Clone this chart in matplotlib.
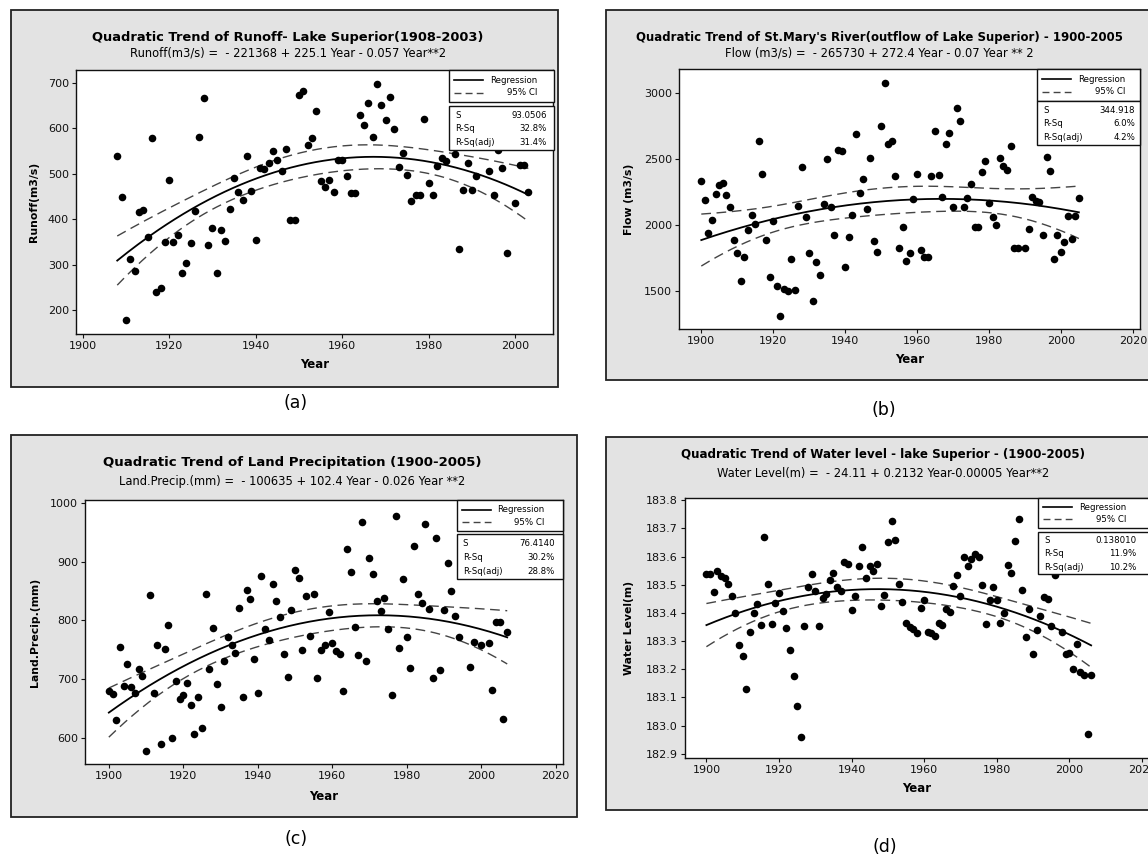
import numpy as np
import matplotlib
matplotlib.use("Agg")
import matplotlib.pyplot as plt
from matplotlib.patches import Rectangle
from matplotlib.lines import Line2D

W, H = 1148, 857

# ---- (a) runoff ----
years_a = list(range(1908, 1985)) + [1986, 1987, 1988, 1989, 1990, 1991, 1994, 1995,
                                     1996, 1997, 1998, 2000, 2001, 2002, 2003]
runoff = [538, 448, 177, 313, 286, 415, 421, 361, 579, 240, 248, 350, 487, 350, 366,
          281, 303, 347, 417, 581, 666, 342, 380, 281, 375, 352, 423, 490, 459, 443,
          538, 462, 355, 512, 510, 523, 550, 530, 505, 555, 399, 399, 672, 682, 563,
          578, 637, 484, 471, 486, 460, 531, 531, 494, 458, 458, 628, 607, 655, 581,
          698, 650, 619, 668, 598, 515, 545, 498, 440, 452, 452, 621, 479, 454, 517,
          535, 527,
          543, 334, 465, 524, 465, 495, 506, 454, 552, 512, 325, 435, 520, 518, 460]

# ---- (b) St. Mary's River flow ----
years_b = list(range(1900, 1989)) + list(range(1990, 2006))
flow = [2333, 2192, 1945, 2038, 2237, 2303, 2323, 2232, 2141, 1889, 1788, 1576, 1758,
        1965, 2076, 2010, 2639, 2386, 1889, 1611, 2030, 1543, 1311, 1515, 1505, 1742,
        1510, 2149, 2444, 2066, 1788, 1427, 1720, 1624, 2162, 2500, 2136, 1929, 2568,
        2561, 1682, 1914, 2076, 2689, 2248, 2349, 2126, 2508, 1881, 1801, 2753, 3081,
        2619, 2641, 2371, 1831, 1987, 1727, 1793, 2202, 2391, 1811, 1763, 1763, 2376,
        2712, 2381, 2217, 2616, 2697, 2136, 2886, 2790, 2136, 2207, 2313, 1985, 1985,
        2404, 2487, 2172, 2066, 2000, 2508, 2447, 2422, 2601, 1826, 1826,
        1826, 1970, 2217, 2184, 2177, 1927, 2515, 2412, 1742, 1927, 1796, 1876, 2073,
        1897, 2073, 2207]

# ---- (c) land precipitation ----
years_c = list(range(1900, 1995)) + [1997, 1998, 2000, 2002, 2003, 2004, 2005, 2006, 2007]
precip = [679, 674, 630, 754, 688, 726, 687, 677, 718, 706, 578, 843, 677, 759, 589,
          752, 793, 600, 696, 666, 672, 693, 655, 607, 669, 617, 846, 718, 788, 691,
          653, 730, 772, 759, 745, 821, 670, 852, 836, 735, 677, 876, 786, 766, 862,
          833, 806, 743, 704, 818, 886, 873, 749, 842, 774, 845, 702, 750, 758, 814,
          762, 748, 742, 680, 922, 882, 789, 741, 968, 731, 906, 879, 833, 816, 838,
          785, 672, 979, 753, 870, 772, 719, 928, 846, 830, 965, 820, 702, 941, 716,
          818, 899, 850, 807, 772,
          721, 763, 758, 762, 681, 798, 797, 632, 780]

# ---- (d) water level ----
years_d = list(range(1900, 1997)) + list(range(1998, 2007))
level = [183.537, 183.537, 183.473, 183.549, 183.532, 183.523, 183.504, 183.459, 183.400,
         183.285, 183.248, 183.131, 183.332, 183.401, 183.432, 183.357, 183.671, 183.504,
         183.359, 183.435, 183.469, 183.407, 183.345, 183.269, 183.177, 183.071, 182.960,
         183.352, 183.493, 183.537, 183.478, 183.355, 183.452, 183.468, 183.518, 183.541,
         183.492, 183.478, 183.582, 183.575, 183.411, 183.460, 183.565, 183.634, 183.524,
         183.568, 183.548, 183.575, 183.424, 183.464, 183.650, 183.728, 183.658, 183.504,
         183.437, 183.365, 183.351, 183.343, 183.330, 183.418, 183.446, 183.333, 183.327,
         183.319, 183.364, 183.358, 183.414, 183.404, 183.494, 183.535, 183.460, 183.600,
         183.565, 183.590, 183.609, 183.597, 183.499, 183.359, 183.447, 183.492, 183.445,
         183.364, 183.401, 183.569, 183.542, 183.657, 183.735, 183.480, 183.313, 183.413,
         183.253, 183.340, 183.390, 183.456, 183.448, 183.353, 183.535,
         183.333, 183.255, 183.257, 183.202, 183.290, 183.190, 183.179, 182.971, 183.179]

titles = ["Quadratic Trend of Runoff- Lake Superior(1908-2003)",
          "Quadratic Trend of St.Mary's River(outflow of Lake Superior) - 1900-2005",
          "Quadratic Trend of Land Precipitation (1900-2005)",
          "Quadratic Trend of Water level - lake Superior - (1900-2005)"]
subtitles = ["Runoff(m3/s) =  - 221368 + 225.1 Year - 0.057 Year**2",
             "Flow (m3/s) =  - 265730 + 272.4 Year - 0.07 Year ** 2",
             "Land.Precip.(mm) =  - 100635 + 102.4 Year - 0.026 Year **2",
             "Water Level(m) =  - 24.11 + 0.2132 Year-0.00005 Year**2"]
ylabels = ["Runoff(m3/s)", "Flow (m3/s)", "Land.Precip.(mm)", "Water Level(m)"]
stats = [("93.0506", "32.8%", "31.4%"), ("344.918", "6.0%", "4.2%"),
         ("76.4140", "30.2%", "28.8%"), ("0.138010", "11.9%", "10.2%")]
panel_tags = ["(a)", "(b)", "(c)", "(d)"]


def fx(x):
    return x / W


def fy(y):
    return 1 - y / H


def quad_fit(x, y, t=1.985):
    x = np.asarray(x, float)
    y = np.asarray(y, float)
    m = x.mean()
    X = np.column_stack([np.ones_like(x), x - m, (x - m) ** 2])
    beta = np.linalg.lstsq(X, y, rcond=None)[0]
    n = len(x)
    s = np.sqrt(np.sum((y - X @ beta) ** 2) / (n - 3))
    xg = np.linspace(x.min(), x.max(), 200)
    G = np.column_stack([np.ones_like(xg), xg - m, (xg - m) ** 2])
    cov = np.linalg.inv(X.T @ X)
    se = s * np.sqrt(np.einsum('ij,jk,ik->i', G, cov, G))
    yg = G @ beta
    return xg, yg, yg - t * se, yg + t * se


fig = plt.figure(figsize=(W / 100, H / 100), dpi=100)
fig.patch.set_facecolor('white')

# layout in pixels
frames = [(11, 10, 558, 387), (606, 10, 1160, 380), (11, 435, 577, 817), (606, 437, 1160, 810)]
plots = [(75.7, 70, 553, 334), (679, 69.3, 1140, 329), (85, 500, 562.7, 764), (685, 497.7, 1149.2, 757.7)]
xlims = [(1898.4, 2008.7), (1893.8, 2022), (1893.6, 2021.9), (1894.1, 2022)]
ylims = [(147.2, 727.9), (1214, 3182), (555, 1005.7), (182.886, 183.809)]
xticks = [range(1900, 2001, 20), range(1900, 2021, 20), range(1900, 2021, 20), range(1900, 2021, 20)]
yticks = [range(200, 701, 100), range(1500, 3001, 500), range(600, 1001, 100),
          [182.9, 183.0, 183.1, 183.2, 183.3, 183.4, 183.5, 183.6, 183.7, 183.8]]
title_pos = [(288, 37, 53), (879, 37, 53), (292, 463, 482), (883, 455, 473)]
title_size = [9.4, 8.5, 9.5, 8.6]
ylab_x = [34, 629, 35, 629]
xlab_y = [365, 360, 796, 788]
tag_pos = [(296, 403), (884, 410), (296, 839), (885, 847)]
# legend boxes: (x0, x1, top, bottom of legend, top, bottom of stats)
leg = [(449, 554, 70, 101.7, 105.7, 150), (1037, 1140, 69.3, 100.7, 100.7, 145),
       (456.7, 563, 500, 530.7, 534, 579), (1038, 1165, 497.7, 527.7, 531.7, 574.3)]

datasets = [(years_a, runoff), (years_b, flow), (years_c, precip), (years_d, level)]

for i, (yrs, vals) in enumerate(datasets):
    x0, y0, x1, y1 = frames[i]
    fig.add_artist(Rectangle((fx(x0), fy(y1)), (x1 - x0) / W, (y1 - y0) / H,
                             transform=fig.transFigure, facecolor='#e3e3e3',
                             edgecolor='#222222', lw=1.3, zorder=-1))
    l, t, r, b = plots[i]
    ax = fig.add_axes([fx(l), fy(b), (r - l) / W, (b - t) / H])
    ax.set_facecolor('white')
    ax.scatter(yrs, vals, s=30, color='black', zorder=3, linewidths=0)
    xg, yg, lo, hi = quad_fit(yrs, vals)
    ax.plot(xg, yg, color='black', lw=1.3, zorder=2)
    ax.plot(xg, lo, color='#444444', lw=1.0, dashes=(7, 4), zorder=2)
    ax.plot(xg, hi, color='#444444', lw=1.0, dashes=(7, 4), zorder=2)
    ax.set_xlim(*xlims[i])
    ax.set_ylim(*ylims[i])
    ax.set_xticks(list(xticks[i]))
    ax.set_yticks(list(yticks[i]))
    if i == 3:
        ax.set_yticklabels(['%.1f' % v for v in yticks[i]])
    ax.tick_params(direction='out', length=3, width=0.8, labelsize=8, pad=2, colors='#111111')
    for sp in ax.spines.values():
        sp.set_linewidth(1.0)
        sp.set_color('#111111')

    tx, ty1, ty2 = title_pos[i]
    fig.text(fx(tx), fy(ty1), titles[i], ha='center', va='center', fontsize=title_size[i],
             fontweight='bold')
    fig.text(fx(tx), fy(ty2), subtitles[i], ha='center', va='center', fontsize=8.3)
    fig.text(fx(ylab_x[i]), fy((t + b) / 2), ylabels[i], rotation=90, ha='center', va='center',
             fontsize=7.8, fontweight='bold')
    fig.text(fx((l + r) / 2), fy(xlab_y[i]), "Year", ha='center', va='center',
             fontsize=8.5, fontweight='bold')
    fig.text(fx(tag_pos[i][0]), fy(tag_pos[i][1]), panel_tags[i], ha='center', va='center', fontsize=12.5)

    # legend and stats boxes
    lx0, lx1, lt, lb, st, sb = leg[i]
    for (bt, bb) in [(lt, lb), (st, sb)]:
        fig.add_artist(Rectangle((fx(lx0), fy(bb)), (lx1 - lx0) / W, (bb - bt) / H,
                                 transform=fig.transFigure, facecolor='white',
                                 edgecolor='#111111', lw=1.0, zorder=5))
    ry = lt + (lb - lt) * 0.32
    cy = lt + (lb - lt) * 0.72
    fig.add_artist(Line2D([fx(lx0 + 5), fx(lx0 + 34)], [fy(ry), fy(ry)], transform=fig.transFigure,
                          color='black', lw=1.2, zorder=6))
    fig.add_artist(Line2D([fx(lx0 + 5), fx(lx0 + 34)], [fy(cy), fy(cy)], transform=fig.transFigure,
                          color='#444444', lw=1.0, dashes=(5, 3), zorder=6))
    fig.text(fx(lx0 + 88), fy(ry), "Regression", ha='right', va='center', fontsize=6.2, zorder=7)
    fig.text(fx(lx0 + 88), fy(cy), "95% CI", ha='right', va='center', fontsize=6.2, zorder=7)
    rows = ["S", "R-Sq", "R-Sq(adj)"]
    for k in range(3):
        yy = st + (sb - st) * (0.21 + 0.31 * k)
        fig.text(fx(lx0 + 6), fy(yy), rows[k], ha='left', va='center', fontsize=6.2, zorder=7)
        fig.text(fx(lx0 + 98), fy(yy), stats[i][k], ha='right', va='center', fontsize=6.2, zorder=7)

fig.savefig('out.png', dpi=100)
